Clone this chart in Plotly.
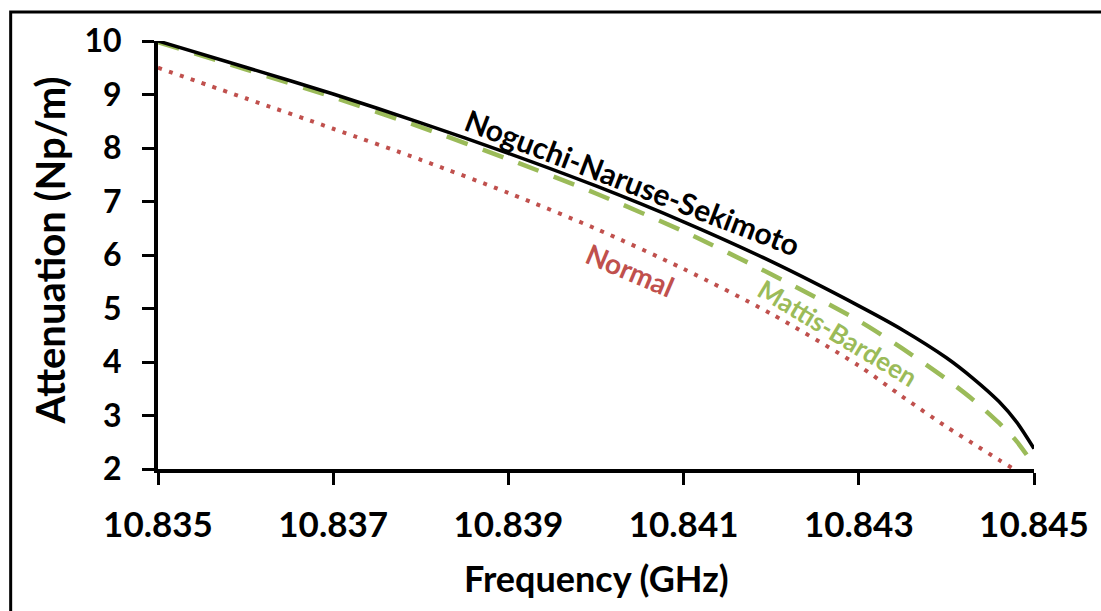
import plotly.graph_objects as go

# Frequency (GHz)
freq = [10.835, 10.836, 10.837, 10.838, 10.839, 10.840, 10.841, 10.842,
        10.843, 10.8435, 10.844, 10.8443, 10.8446, 10.8448, 10.845]

# Attenuation (Np/m)
nns = [10.00, 9.51, 9.01, 8.47, 7.90, 7.29, 6.62, 5.88,
       5.05, 4.60, 4.08, 3.70, 3.26, 2.88, 2.38]
mattis_bardeen = [9.98, 9.47, 8.95, 8.39, 7.79, 7.15, 6.44, 5.64,
                  4.77, 4.25, 3.68, 3.30, 2.86, 2.52, 2.07]
normal = [9.50, 8.93, 8.36, 7.78, 7.16, 6.49, 5.74, 4.90,
          3.93, 3.35, 2.79, 2.48, 2.17, 1.97, 1.77]

x_ticks = [10.835, 10.837, 10.839, 10.841, 10.843, 10.845]
x_tick_text = ["10.835", "10.837", "10.839", "10.841", "10.843", "10.845"]
y_ticks = [2, 3, 4, 5, 6, 7, 8, 9, 10]

BLACK = "#000000"
GREEN = "#9BBB59"
RED = "#C0504D"
FONT = "Lato"

fig = go.Figure()
fig.add_trace(go.Scatter(x=freq, y=normal, mode="lines", name="Normal",
                         line=dict(color=RED, width=4, dash="4px,7.5px", shape="spline", smoothing=0.8)))
fig.add_trace(go.Scatter(x=freq, y=mattis_bardeen, mode="lines", name="Mattis-Bardeen",
                         line=dict(color=GREEN, width=4.5, dash="22px,16px", shape="spline", smoothing=0.8)))
fig.add_trace(go.Scatter(x=freq, y=nns, mode="lines", name="Noguchi-Naruse-Sekimoto",
                         line=dict(color=BLACK, width=3.5, shape="spline", smoothing=0.8)))

L, R, T, B = 158, 63, 41, 142
W, H = 1101, 611
pw, ph = W - L - R, H - T - B

def px_to_paper(px, py):
    return (px - L) / pw, (H - B - py) / ph

fig.update_layout(
    width=W, height=H,
    margin=dict(l=L, r=R, t=T, b=B),
    paper_bgcolor="white", plot_bgcolor="white",
    showlegend=False,
    font=dict(family=FONT, color=BLACK),
    xaxis=dict(range=[10.835, 10.845], tickvals=x_ticks, ticktext=x_tick_text,
               showgrid=False, zeroline=False, showline=True, linecolor=BLACK, linewidth=4,
               ticks="outside", ticklen=12, tickwidth=3, tickcolor=BLACK,
               tickfont=dict(family=FONT, size=35, color=BLACK, weight="bold"),
               ticklabelstandoff=10),
    yaxis=dict(range=[2, 10], tickvals=y_ticks,
               showgrid=False, zeroline=False, showline=True, linecolor=BLACK, linewidth=4,
               ticks="outside", ticklen=12, tickwidth=3, tickcolor=BLACK,
               tickfont=dict(family=FONT, size=32, color=BLACK, weight="bold"),
               ticklabelstandoff=14),
)

# chart-area frame (partially outside the visible picture)
fx0, fy1 = px_to_paper(10, 12)
fig.add_shape(type="rect", xref="paper", yref="paper", x0=fx0, y0=-1.0, x1=2.0, y1=fy1,
              line=dict(color=BLACK, width=3), layer="below")

# axis titles
ax, ay = px_to_paper(50, 250)
fig.add_annotation(xref="paper", yref="paper", x=ax, y=ay, text="Attenuation (Np/m)",
                   textangle=-90, showarrow=False, xanchor="center", yanchor="middle",
                   font=dict(family=FONT, size=40, color=BLACK, weight="bold"))
bx, by = px_to_paper(598, 578)
fig.add_annotation(xref="paper", yref="paper", x=bx, y=by, text="Frequency (GHz)",
                   showarrow=False, xanchor="center", yanchor="middle",
                   font=dict(family=FONT, size=36, color=BLACK, weight="bold"))

# curve labels
fig.add_annotation(x=10.840423, y=7.37, text="Noguchi-Naruse-Sekimoto", textangle=21,
                   showarrow=False, font=dict(family=FONT, size=30, color=BLACK, weight="bold"))
fig.add_annotation(x=10.840393, y=5.72, text="Normal", textangle=23,
                   showarrow=False, font=dict(family=FONT, size=28, color=RED, weight="bold"))
fig.add_annotation(x=10.842767, y=4.551, text="Mattis-Bardeen", textangle=31,
                   showarrow=False, font=dict(family=FONT, size=26, color=GREEN, weight="bold"))

fig.write_html("out.html")
